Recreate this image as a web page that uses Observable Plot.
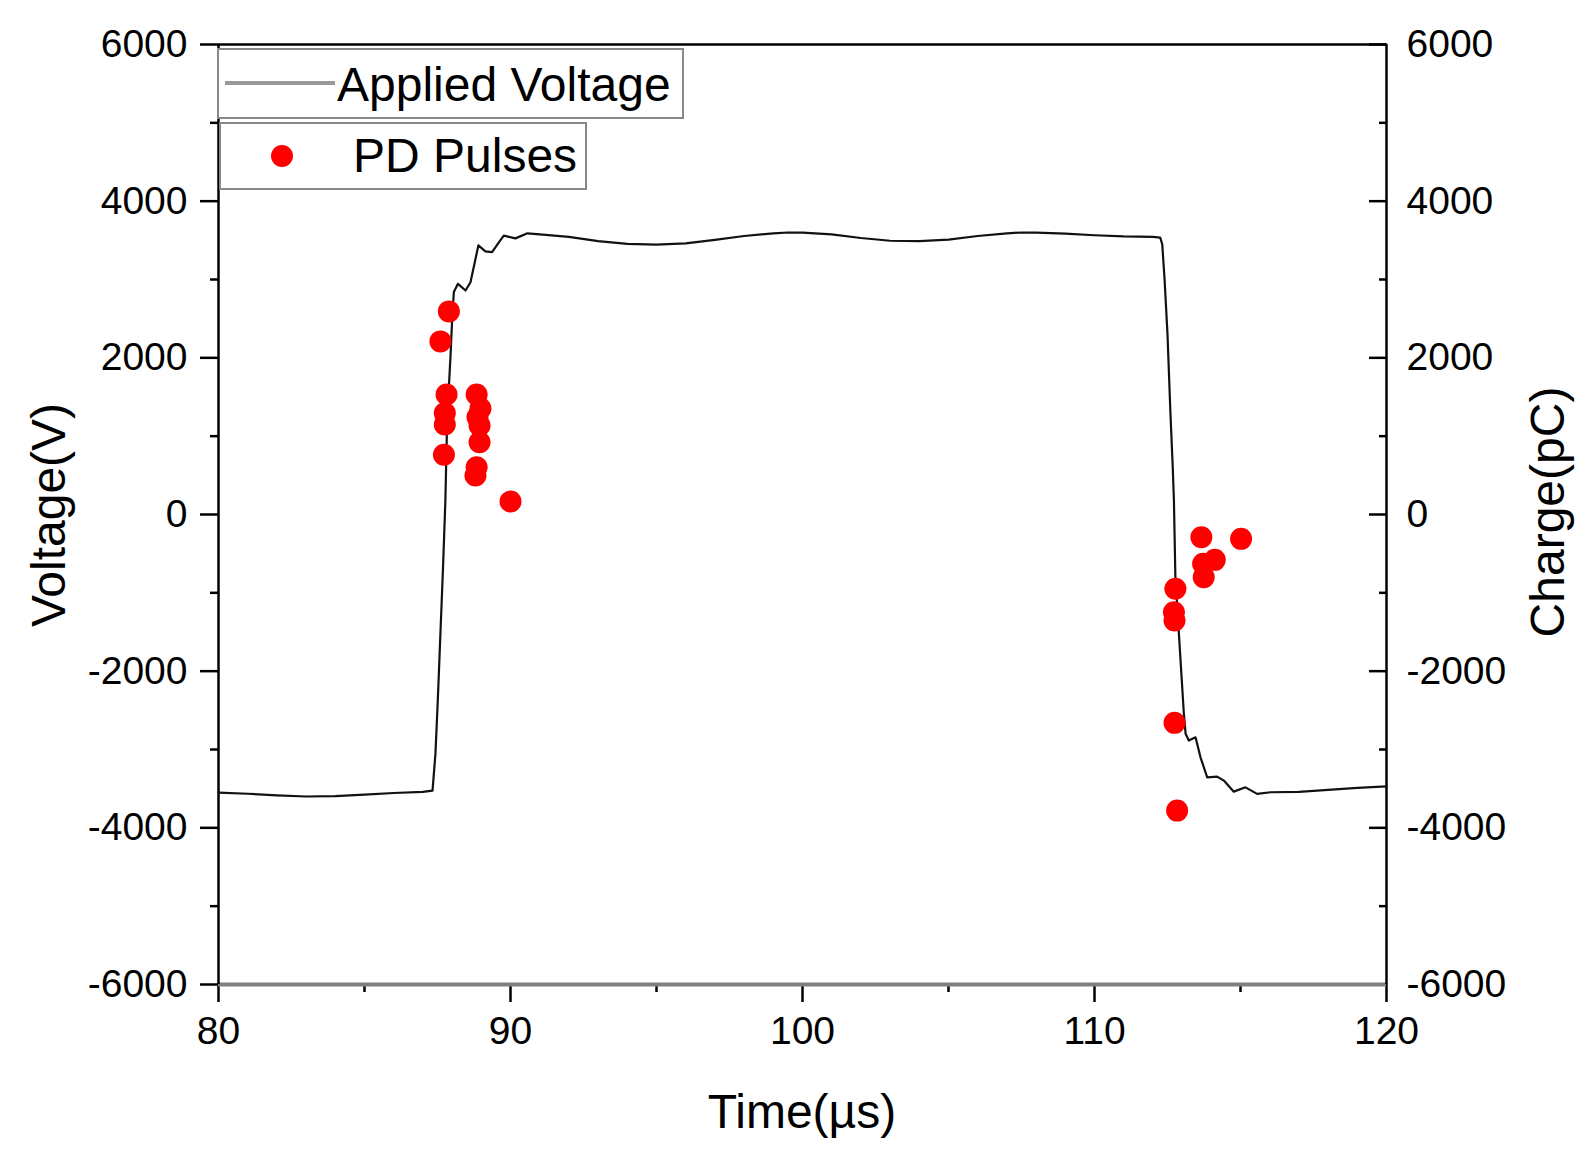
<!DOCTYPE html>
<html>
<head>
<meta charset="utf-8">
<script src="https://cdn.jsdelivr.net/npm/d3@7"></script>
<script src="https://cdn.jsdelivr.net/npm/@observablehq/plot@0.6"></script>
<style>
  body { margin: 0; background: white; }
  #chart { width: 1590px; height: 1168px; }
</style>
</head>
<body>
<div id="chart"></div>
<script>
// applied voltage trace (µs, V)
const voltTime = [80, 81, 82, 83, 84, 85, 86, 87, 87.33, 87.43, 87.51, 87.6, 87.69, 87.77, 87.83, 87.95, 88.0, 88.06, 88.2, 88.46, 88.63, 88.9, 89.14, 89.37, 89.6, 89.77, 90.17, 90.58,
  91, 92, 93, 94, 95, 96, 97, 98, 99, 99.5, 100, 101, 102, 103, 104, 105, 106, 107, 107.5, 108, 109, 110, 111, 112, 112.25,
  112.32, 112.4, 112.5, 112.6, 112.68, 112.72, 112.77, 112.89, 113.06, 113.12, 113.23, 113.46, 113.63, 113.86, 114.2, 114.43, 114.77, 115.17, 115.57, 116.03,
  117, 118, 119, 120];
const voltValue = [-3550, -3565, -3585, -3600, -3595, -3575, -3555, -3540, -3525, -3050, -2375, -1520, -670, 179, 1200, 2055, 2480, 2840, 2945, 2860, 2965, 3435, 3360, 3350, 3475, 3560, 3525, 3590,
  3575, 3545, 3490, 3455, 3445, 3460, 3505, 3555, 3590, 3600, 3598, 3575, 3530, 3495, 3490, 3510, 3555, 3590, 3600, 3598, 3585, 3565, 3550, 3545, 3535,
  3450, 3000, 2300, 1300, 600, 179, -800, -1520, -2540, -2800, -2886, -2845, -3100, -3355, -3346, -3397, -3538, -3483, -3567, -3546,
  -3540, -3515, -3490, -3470];

// partial discharge pulses (µs, pC)
const pdTime = [87.89, 87.6, 87.81, 87.75, 87.75, 87.72, 88.84, 88.97, 88.87, 88.94, 88.94, 88.84, 88.8, 90.0,
  113.66, 115.02, 114.12, 113.72, 113.74, 112.77, 112.72, 112.74, 112.74, 112.83];
const pdCharge = [2593, 2210, 1533, 1294, 1149, 762, 1533, 1354, 1243, 1137, 923, 604, 498, 166,
  -290, -311, -579, -630, -800, -949, -1247, -1354, -2660, -3780];

const xMajor = [80, 90, 100, 110, 120];
const xMinor = [85, 95, 105, 115];
const yMajor = [-6000, -4000, -2000, 0, 2000, 4000, 6000];
const yMinor = [-5000, -3000, -1000, 1000, 3000, 5000];

const voltage = voltTime.map((t, i) => ({t, v: voltValue[i]}));
const pulses = pdTime.map((t, i) => ({t, q: pdCharge[i]}));

const font = "Liberation Sans, Arial, sans-serif";
const plain = d => String(d);

const plot = Plot.plot({
  width: 1590,
  height: 1168,
  marginLeft: 218,
  marginRight: 204,
  marginTop: 44,
  marginBottom: 184,
  style: {fontFamily: font, color: "black", background: "white"},
  x: {domain: [80, 120]},
  y: {domain: [-6000, 6000]},
  marks: [
    Plot.axisX({ticks: xMajor, tickSize: 18, tickPadding: 14, tickFormat: plain, fontSize: 39, strokeWidth: 2.5, label: null}),
    Plot.axisX({ticks: xMinor, tickSize: 8, tickFormat: () => "", strokeWidth: 2.5, label: null}),
    Plot.axisY({anchor: "left", ticks: yMajor, tickSize: 18, tickPadding: 13, tickFormat: plain, fontSize: 39, strokeWidth: 2.5, label: null}),
    Plot.axisY({anchor: "left", ticks: yMinor, tickSize: 8, tickFormat: () => "", strokeWidth: 2.5, label: null}),
    Plot.axisY({anchor: "right", ticks: yMajor, tickSize: 18, dx: -18, tickFormat: () => "", strokeWidth: 2.5, label: null}),
    Plot.axisY({anchor: "right", ticks: yMinor, tickSize: 8, dx: -8, tickFormat: () => "", strokeWidth: 2.5, label: null}),
    Plot.axisY({anchor: "right", ticks: yMajor, tickSize: 0, tickPadding: 20, tickFormat: plain, fontSize: 39, label: null}),
    Plot.ruleY([-6000], {stroke: "#7f7f7f", strokeWidth: 4}),
    Plot.ruleY([6000], {stroke: "black", strokeWidth: 2.5}),
    Plot.ruleX([80, 120], {stroke: "black", strokeWidth: 2.5}),
    Plot.line(voltage, {x: "t", y: "v", stroke: "#111", strokeWidth: 2.2}),
    Plot.dot(pulses, {x: "t", y: "q", r: 11, fill: "#ff0000", stroke: "none"})
  ]
});

const svg = d3.select(plot);

// axis titles
svg.append("text").attr("x", 802).attr("y", 1111).attr("text-anchor", "middle").attr("dominant-baseline", "central")
  .attr("font-family", font).attr("font-size", 48).attr("fill", "black").text("Time(µs)");
svg.append("text").attr("transform", "translate(48,515) rotate(-90)").attr("text-anchor", "middle").attr("dominant-baseline", "central")
  .attr("font-family", font).attr("font-size", 48).attr("fill", "black").text("Voltage(V)");
svg.append("text").attr("transform", "translate(1547,512) rotate(-90)").attr("text-anchor", "middle").attr("dominant-baseline", "central")
  .attr("font-family", font).attr("font-size", 48).attr("fill", "black").text("Charge(pC)");

// legend boxes
const lg = svg.append("g").attr("font-family", font).attr("font-size", 48).attr("fill", "black").attr("text-anchor", "start");
lg.append("rect").attr("x", 218).attr("y", 49).attr("width", 465).attr("height", 69)
  .attr("fill", "white").attr("stroke", "#888").attr("stroke-width", 2);
lg.append("line").attr("x1", 225).attr("x2", 335).attr("y1", 83).attr("y2", 83)
  .attr("stroke", "#999").attr("stroke-width", 4);
lg.append("text").attr("x", 337).attr("y", 101).attr("text-anchor", "start").text("Applied Voltage");
lg.append("rect").attr("x", 220).attr("y", 123).attr("width", 366).attr("height", 66)
  .attr("fill", "white").attr("stroke", "#888").attr("stroke-width", 2);
lg.append("circle").attr("cx", 282).attr("cy", 156).attr("r", 11).attr("fill", "#ff0000");
lg.append("text").attr("x", 353).attr("y", 172).attr("text-anchor", "start").text("PD Pulses");

document.querySelector("#chart").append(plot);
</script>
</body>
</html>
